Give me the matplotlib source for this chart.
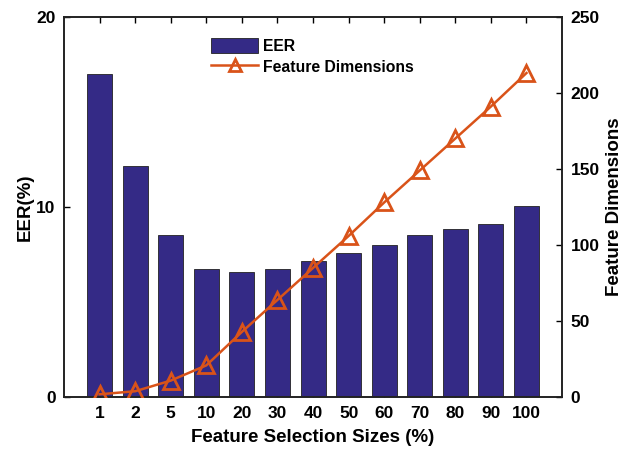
import matplotlib
matplotlib.use("Agg")
import matplotlib.pyplot as plt
import numpy as np

# Datos
sizes = ["1", "2", "5", "10", "20", "30", "40", "50", "60", "70", "80", "90", "100"]
eer = [17.0, 12.15, 8.55, 6.72, 6.58, 6.72, 7.18, 7.6, 7.98, 8.52, 8.87, 9.12, 10.04]
dims = [2, 4, 11, 21, 43, 64, 85, 106, 128, 149, 170, 191, 213]

BAR_COLOR = "#342a86"
LINE_COLOR = "#d95319"

plt.rcParams["font.family"] = ["Liberation Sans", "DejaVu Sans"]
plt.rcParams["font.weight"] = "bold"

fig = plt.figure(figsize=(6.28, 4.51), dpi=100)
ax1 = fig.add_axes([0.102, 0.119, 0.793, 0.844])
x = np.arange(1, len(sizes) + 1)

bars = ax1.bar(x, eer, width=0.7, color=BAR_COLOR, edgecolor="#222222",
               linewidth=0.6, label="EER", zorder=2)
ax1.set_xlim(0, len(sizes) + 1)
ax1.set_ylim(0, 20)
ax1.set_yticks([0, 10, 20])
ax1.set_xticks(x)
ax1.set_xticklabels(sizes)
ax1.set_xlabel("Feature Selection Sizes (%)", fontsize=13.5, fontweight="bold",
               labelpad=6)
ax1.set_ylabel("EER(%)", fontsize=13.5, fontweight="bold", labelpad=2)
ax1.tick_params(axis="both", direction="in", length=4, width=1, labelsize=12.5,
                top=True, right=True, pad=6)

ax2 = ax1.twinx()
line, = ax2.plot(x, dims, color=LINE_COLOR, linewidth=1.8, marker="^",
                 markersize=11, markerfacecolor="none", markeredgewidth=2,
                 label="Feature Dimensions", zorder=3)
ax2.set_ylim(0, 250)
ax2.set_yticks([0, 50, 100, 150, 200, 250])
ax2.set_ylabel("Feature Dimensions", fontsize=13.5, fontweight="bold", labelpad=5)
ax2.tick_params(axis="y", direction="in", length=4, width=1, labelsize=12.5, pad=6)

for ax in (ax1, ax2):
    for s in ax.spines.values():
        s.set_linewidth(1.2)
        s.set_color("#222222")
    for lab in ax.get_xticklabels() + ax.get_yticklabels():
        lab.set_fontweight("bold")

leg = ax1.legend(handles=[bars, line], loc="upper left",
                 bbox_to_anchor=(0.267, 0.982), frameon=False, fontsize=11.3,
                 handlelength=3.0, handleheight=1.1, handletextpad=0.3,
                 labelspacing=0.35, markerscale=0.75)
for t in leg.get_texts():
    t.set_fontweight("bold")

fig.savefig("out.png", dpi=100)
